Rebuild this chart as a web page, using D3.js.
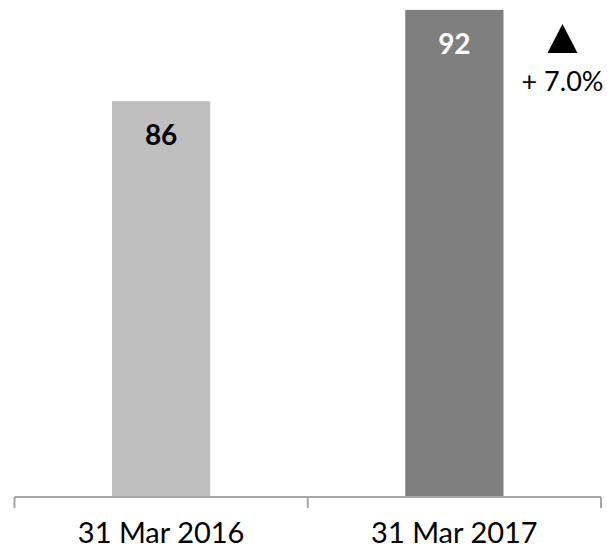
<!DOCTYPE html>
<html>
<head>
<meta charset="utf-8">
<script src="https://cdn.jsdelivr.net/npm/d3@7"></script>
<style>
  html, body { margin: 0; padding: 0; background: #fff; }
  svg { display: block; }
</style>
</head>
<body>
<svg id="chart" width="607" height="550"></svg>
<script>
// Data
const categories = ["31 Mar 2016", "31 Mar 2017"];
const values = [86, 92];
const barColors = ["#bfbfbf", "#7f7f7f"];
const labelColors = ["#000000", "#ffffff"];

const width = 607, height = 550;
const fontFamily = "Lato, 'Open Sans', 'DejaVu Sans', sans-serif";

const svg = d3.select("#chart");

// Scales: axis spans the full plot width, value axis starts at 60
const x = d3.scaleBand()
  .domain(categories)
  .range([14.5, 601])
  .paddingInner(0.665)
  .paddingOuter(0.3325);

const y = d3.scaleLinear()
  .domain([60, 92.65])
  .range([497, 0]);

// Bars
svg.selectAll("rect.bar")
  .data(values)
  .join("rect")
  .attr("class", "bar")
  .attr("x", (d, i) => x(categories[i]))
  .attr("y", d => y(d))
  .attr("width", x.bandwidth())
  .attr("height", d => y.range()[0] - y(d))
  .attr("fill", (d, i) => barColors[i]);

// Value labels inside the top of each bar
svg.selectAll("text.value")
  .data(values)
  .join("text")
  .attr("class", "value")
  .attr("x", (d, i) => x(categories[i]) + x.bandwidth() / 2)
  .attr("y", d => y(d) + 44)
  .attr("text-anchor", "middle")
  .attr("font-family", fontFamily)
  .attr("font-weight", "bold")
  .attr("font-size", 28)
  .attr("fill", (d, i) => labelColors[i])
  .text(d => d);

// Category axis: baseline with tick marks at band boundaries
const axisY = y.range()[0];
const [x0, x1] = x.range();
const step = x.step();
const axis = svg.append("g").attr("stroke", "#a6a6a6").attr("stroke-width", 2).attr("fill", "none");
axis.append("line")
  .attr("x1", x0).attr("x2", x1)
  .attr("y1", axisY).attr("y2", axisY);
axis.selectAll("line.tick")
  .data(d3.range(categories.length + 1))
  .join("line")
  .attr("class", "tick")
  .attr("x1", i => x0 + i * step).attr("x2", i => x0 + i * step)
  .attr("y1", axisY).attr("y2", axisY + 11);

svg.selectAll("text.cat")
  .data(categories)
  .join("text")
  .attr("class", "cat")
  .attr("x", d => x(d) + x.bandwidth() / 2)
  .attr("y", 543)
  .attr("text-anchor", "middle")
  .attr("font-family", fontFamily)
  .attr("font-size", 29)
  .attr("fill", "#000")
  .text(d => d);

// Year-on-year change marker beside the latest bar
const change = values[1] / values[0] - 1;
const markerX = x(categories[1]) + x.bandwidth() + 59;
const triW = 30, triH = 29, triTop = y(values[1]) + 14;
svg.append("path")
  .attr("d", `M${markerX - triW / 2},${triTop + triH} L${markerX},${triTop} L${markerX + triW / 2},${triTop + triH} Z`)
  .attr("fill", "#000");

svg.append("text")
  .attr("x", markerX)
  .attr("y", triTop + triH + 38)
  .attr("text-anchor", "middle")
  .attr("font-family", fontFamily)
  .attr("font-size", 27)
  .attr("fill", "#000")
  .text((change >= 0 ? "+ " : "- ") + d3.format(".1%")(Math.abs(change)));
</script>
</body>
</html>
